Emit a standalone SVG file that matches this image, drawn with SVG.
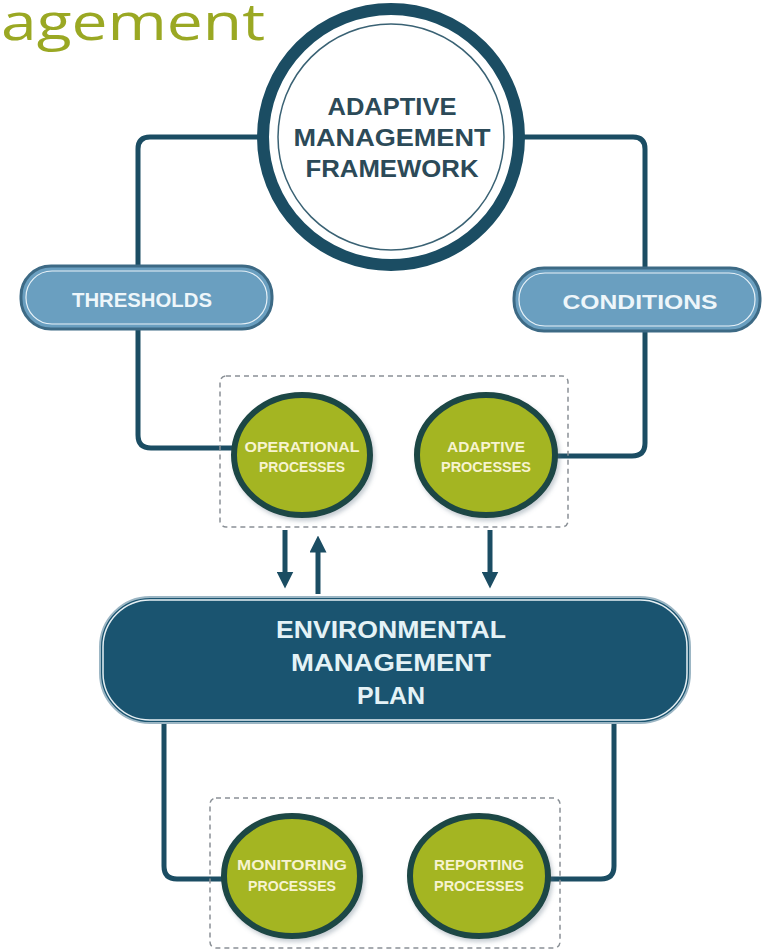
<svg xmlns="http://www.w3.org/2000/svg" width="769" height="952" viewBox="0 0 769 952">
<style>
.conn{fill:none;stroke:#1b4d63;stroke-width:5;stroke-linejoin:round}
.dash{fill:none;stroke:#8a9096;stroke-width:1.5;stroke-dasharray:5 4}
.pill{fill:#6a9fc0;stroke:#3d6a85;stroke-width:3}
.pillin{fill:none;stroke:#e8f2f8;stroke-width:1.2}
.pilltxt{font-family:"Liberation Sans",Arial,sans-serif;font-weight:bold;font-size:20px;fill:#eef6fa;text-anchor:middle}
.proc{fill:#a4b520;stroke:#1f4644;stroke-width:6;filter:url(#sh)}
.proctxt{font-family:"Liberation Sans",Arial,sans-serif;font-weight:bold;font-size:14px;fill:#f7f3d0;text-anchor:middle}
.darktxt{font-family:"Liberation Sans",Arial,sans-serif;font-weight:bold;font-size:24px;fill:#2c4a58;text-anchor:middle}
.emptxt{font-family:"Liberation Sans",Arial,sans-serif;font-weight:bold;font-size:24px;fill:#e4f2f6;text-anchor:middle}
</style>
<defs>
<marker id="ah" viewBox="0 0 10 10" refX="5" refY="5" markerWidth="3.4" markerHeight="3.4" orient="auto-start-reverse" markerUnits="strokeWidth">
<path d="M0,0 L10,5 L0,10 z" fill="#1b4d63"/>
</marker>
<filter id="sh" x="-20%" y="-20%" width="140%" height="140%">
<feDropShadow dx="2" dy="3" stdDeviation="2" flood-color="#5a7080" flood-opacity="0.35"/>
</filter>
</defs>
<rect width="769" height="952" fill="#ffffff"/>
<text x="1" y="40" font-family="'Open Sans','Noto Sans',sans-serif" font-size="52" fill="#9aa823" textLength="264" lengthAdjust="spacingAndGlyphs">agement</text>

<g id="connectors">
<path class="conn" d="M258,137 H150 Q138,137 138,149 V435 Q138,448 151,448 H232"/>
<path class="conn" d="M524,137 H633 Q645,137 645,149 V443 Q645,456 632,456 H556"/>
<path class="conn" d="M164,722 V866 Q164,879 177,879 H224"/>
<path class="conn" d="M614,722 V866 Q614,879 601,879 H548"/>
<line class="conn" x1="285" y1="530" x2="285" y2="580" marker-end="url(#ah)"/>
<line class="conn" x1="318" y1="594" x2="318" y2="544" marker-end="url(#ah)"/>
<line class="conn" x1="490" y1="530" x2="490" y2="580" marker-end="url(#ah)"/>
</g>

<g id="framework">
<circle cx="391" cy="137" r="128" fill="#ffffff" stroke="#1b4d63" stroke-width="12"/>
<circle cx="391" cy="137" r="113" fill="none" stroke="#3a6274" stroke-width="1.5"/>
<text class="darktxt" x="392" y="115" textLength="129" lengthAdjust="spacingAndGlyphs">ADAPTIVE</text>
<text class="darktxt" x="392" y="146" textLength="197" lengthAdjust="spacingAndGlyphs">MANAGEMENT</text>
<text class="darktxt" x="392" y="177" textLength="173" lengthAdjust="spacingAndGlyphs">FRAMEWORK</text>
</g>

<g id="thresholds">
<rect class="pill" x="21" y="266" width="251" height="63" rx="30"/>
<rect class="pillin" x="26" y="271" width="241" height="53" rx="26"/>
<text class="pilltxt" x="142" y="307" textLength="140" lengthAdjust="spacingAndGlyphs">THRESHOLDS</text>
</g>

<g id="conditions">
<rect class="pill" x="514" y="268" width="246" height="63" rx="30"/>
<rect class="pillin" x="519" y="273" width="236" height="53" rx="26"/>
<text class="pilltxt" x="640" y="309" textLength="155" lengthAdjust="spacingAndGlyphs">CONDITIONS</text>
</g>

<g id="group-top">
<rect class="dash" x="220" y="376" width="348" height="151" rx="6"/>
</g>

<g id="operational">
<ellipse class="proc" cx="302" cy="455" rx="68" ry="60"/>
<text class="proctxt" x="302" y="452" textLength="115" lengthAdjust="spacingAndGlyphs">OPERATIONAL</text>
<text class="proctxt" x="302" y="472" textLength="86" lengthAdjust="spacingAndGlyphs">PROCESSES</text>
</g>

<g id="adaptive">
<ellipse class="proc" cx="486" cy="455" rx="69" ry="60"/>
<text class="proctxt" x="486" y="452" textLength="78" lengthAdjust="spacingAndGlyphs">ADAPTIVE</text>
<text class="proctxt" x="486" y="472" textLength="90" lengthAdjust="spacingAndGlyphs">PROCESSES</text>
</g>

<g id="emp">
<rect x="100" y="597" width="590" height="126" rx="50" fill="#1a5470" stroke="#9cb6c4" stroke-width="2"/>
<rect x="103" y="600" width="584" height="120" rx="47" fill="none" stroke="#e6eff3" stroke-width="1.5"/>
<text class="emptxt" x="391" y="638" textLength="230" lengthAdjust="spacingAndGlyphs">ENVIRONMENTAL</text>
<text class="emptxt" x="391" y="671" textLength="200" lengthAdjust="spacingAndGlyphs">MANAGEMENT</text>
<text class="emptxt" x="391" y="704" textLength="68" lengthAdjust="spacingAndGlyphs">PLAN</text>
</g>

<g id="group-bottom">
<rect class="dash" x="210" y="798" width="350" height="150" rx="6"/>
</g>

<g id="monitoring">
<ellipse class="proc" cx="292" cy="876" rx="68" ry="60"/>
<text class="proctxt" x="292" y="870" textLength="110" lengthAdjust="spacingAndGlyphs">MONITORING</text>
<text class="proctxt" x="292" y="891" textLength="88" lengthAdjust="spacingAndGlyphs">PROCESSES</text>
</g>

<g id="reporting">
<ellipse class="proc" cx="479" cy="876" rx="69" ry="60"/>
<text class="proctxt" x="479" y="870" textLength="90" lengthAdjust="spacingAndGlyphs">REPORTING</text>
<text class="proctxt" x="479" y="891" textLength="90" lengthAdjust="spacingAndGlyphs">PROCESSES</text>
</g>
</svg>
